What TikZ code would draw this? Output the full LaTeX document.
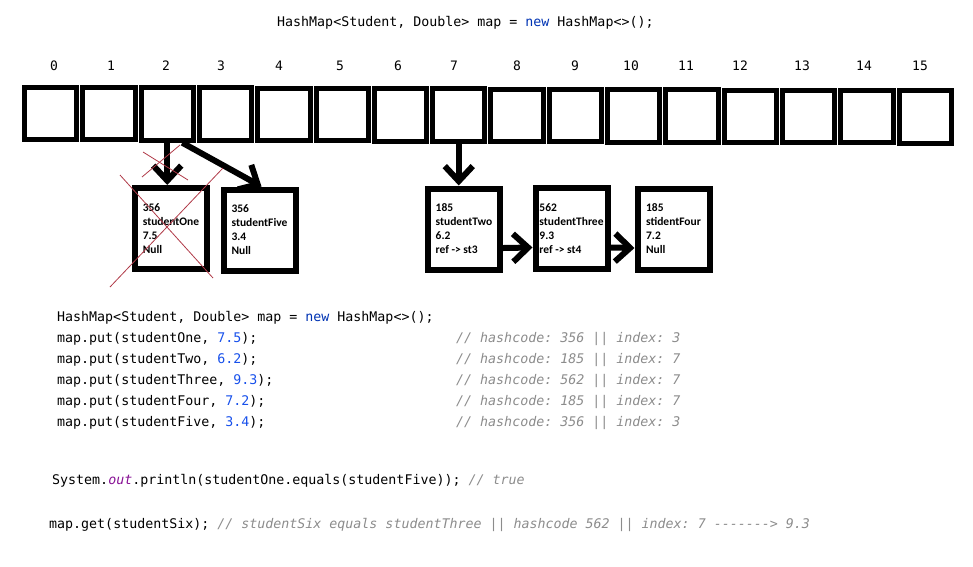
\documentclass[tikz,border=0pt]{standalone}
\usepackage{fontspec}
\setmonofont{DejaVu Sans Mono}
\newfontfamily\paintfont{Carlito}
\usetikzlibrary{arrows.meta,positioning}
\definecolor{numblue}{HTML}{1750EB}
\definecolor{kwblue}{HTML}{0033B3}
\definecolor{cmtgray}{HTML}{8C8C8C}
\definecolor{fieldpurple}{HTML}{871094}
\definecolor{crossred}{HTML}{B03A48}
\newcommand{\codenum}[1]{\textcolor{numblue}{#1}}
\newcommand{\codekw}[1]{\textcolor{kwblue}{#1}}
\newcommand{\codecmt}[1]{\textcolor{cmtgray}{\itshape #1}}
\tikzset{
  code/.style={anchor=base west, inner sep=0pt, font=\ttfamily\fontsize{13.3}{16}\selectfont},
  idx/.style={inner sep=0pt, font=\ttfamily\fontsize{13}{15}\selectfont},
  bucket/.style={draw, line width=5pt, minimum width=52.3pt, minimum height=52.5pt, inner sep=0pt},
  entry/.style={draw, line width=6pt, minimum width=72pt, minimum height=81pt, inner sep=0pt,
    align=left, font=\paintfont\bfseries\fontsize{11.5}{14}\selectfont},
  ptr/.style={line width=6pt, -{Straight Barb[length=15pt,width=28pt]}},
  cross/.style={draw=crossred, line width=0.8pt}
}
\begin{document}
\begin{tikzpicture}[x=1pt,y=-1pt]
    \useasboundingbox (0,0) rectangle (973,566);
    \node[code] (title) at (277,26) {HashMap<Student, Double> map = \codekw{new} HashMap<>();};
    \foreach \i in {0,...,15}
        \node[bucket] (b\i) at ({50.65+58.3*\i},{113.5+0.23*\i}) {};
    \foreach \i/\x in {0/54,1/111,2/166,3/221,4/279,5/340,6/398,7/454,8/517,9/575,10/631,11/686,12/740,13/802,14/864,15/920}
        \node[idx] (l\i) at (\x,66) {\i};
    \node[entry] (one) at (171,228.5) {356\\studentOne\\7.5\\Null};
    \node[entry] (five) at (259.5,230) {356\\studentFive\\3.4\\Null};
    \node[entry] (two) at (464,229) {185\\studentTwo\\6.2\\ref -> st3};
    \node[entry] (three) at (571.5,228.5) {562\\studentThree\\9.3\\ref -> st4};
    \node[entry] (four) at (673.5,229) {185\\stidentFour\\7.2\\Null};
    \draw[ptr] (b2.south) -- (b2.south |- one.north);
    \draw[ptr] ([xshift=15pt]b2.south) -- ([xshift=2pt]five.north);
    \draw[ptr] (b7.south) -- (b7.south |- two.north);
    \draw[ptr] ([yshift=-19pt]two.east) -- ([yshift=-19pt]three.west);
    \draw[ptr] ([yshift=-19pt]three.east) -- ([yshift=-19pt]four.west);
    \draw[cross] (120,175) -- (213,278);
    \draw[cross] (223,168) -- (110,287);
    \draw[cross] (143,152) -- (188,180);
    \draw[cross] (180,145) -- (142,177);
    \node[code] (decl) at (57,321) {HashMap<Student, Double> map = \codekw{new} HashMap<>();};
    \node[code] (put1) at (57,342) {map.put(studentOne, \codenum{7.5});};
    \node[code] (put2) at (57,363) {map.put(studentTwo, \codenum{6.2});};
    \node[code] (put3) at (57,384) {map.put(studentThree, \codenum{9.3});};
    \node[code] (put4) at (57,405) {map.put(studentFour, \codenum{7.2});};
    \node[code] (put5) at (57,426) {map.put(studentFive, \codenum{3.4});};
    \node[code] (note1) at (456,342) {\codecmt{// hashcode: 356 || index: 3}};
    \node[code] (note2) at (456,363) {\codecmt{// hashcode: 185 || index: 7}};
    \node[code] (note3) at (456,384) {\codecmt{// hashcode: 562 || index: 7}};
    \node[code] (note4) at (456,405) {\codecmt{// hashcode: 185 || index: 7}};
    \node[code] (note5) at (456,426) {\codecmt{// hashcode: 356 || index: 3}};
    \node[code] (eq) at (52,484) {System.\textcolor{fieldpurple}{\itshape out}.println(studentOne.equals(studentFive)); \codecmt{// true}};
    \node[code] (get) at (49,528) {map.get(studentSix); \codecmt{// studentSix equals studentThree || hashcode 562 || index: 7 -------> 9.3}};
\end{tikzpicture}
\end{document}
